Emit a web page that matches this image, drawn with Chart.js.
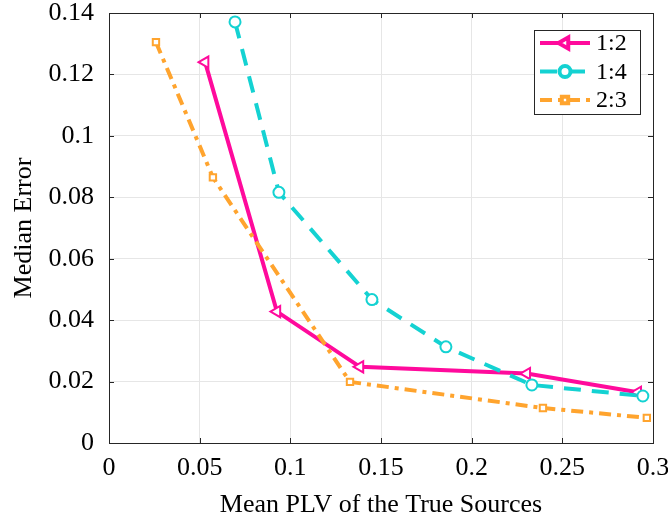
<!DOCTYPE html>
<html>
<head>
<meta charset="utf-8">
<script src="https://cdn.jsdelivr.net/npm/chart.js@4.4.1/dist/chart.umd.min.js"></script>
<style>
  html, body { margin: 0; padding: 0; background: #ffffff; }
</style>
</head>
<body>
<canvas id="grafico" width="668" height="521"></canvas>
<script>
const SERIES = ["1:2", "1:4", "2:3"];

const PLV_12 = [0.053, 0.0926, 0.1384, 0.2304, 0.2916];
const ERR_12 = [0.1240, 0.0428, 0.0248, 0.0226, 0.0165];

const PLV_14 = [0.0695, 0.0937, 0.145, 0.1858, 0.2332, 0.2944];
const ERR_14 = [0.1371, 0.0816, 0.0467, 0.0313, 0.0189, 0.0153];

const PLV_23 = [0.0259, 0.0573, 0.1329, 0.2393, 0.2966];
const ERR_23 = [0.1305, 0.0865, 0.0199, 0.0114, 0.0082];

const X_TICKS = [0, 0.05, 0.1, 0.15, 0.2, 0.25, 0.3];
const Y_TICKS = [0, 0.02, 0.04, 0.06, 0.08, 0.1, 0.12, 0.14];

const FUENTE = "'Liberation Serif', 'Times New Roman', serif";
const TINTA = "#262626";

Chart.defaults.font.family = FUENTE;
Chart.defaults.color = "#000000";

function puntos(xs, ys) {
  return xs.map((x, i) => ({ x: x, y: ys[i] }));
}

function etiqueta(v) {
  return String(Number(v.toFixed(2)));
}

// marco y marcas hacia dentro, como en MATLAB
const pluginMarco = {
  id: "marco",
  beforeDatasetsDraw(chart) {
    const { ctx, chartArea: a, scales } = chart;
    ctx.save();
    ctx.strokeStyle = TINTA;
    ctx.lineWidth = 1;
    ctx.beginPath();
    X_TICKS.forEach((v) => {
      const x = Math.round(scales.x.getPixelForValue(v)) + 0.5;
      ctx.moveTo(x, a.bottom);
      ctx.lineTo(x, a.bottom - 5);
      ctx.moveTo(x, a.top);
      ctx.lineTo(x, a.top + 5);
    });
    Y_TICKS.forEach((v) => {
      const y = Math.round(scales.y.getPixelForValue(v)) + 0.5;
      ctx.moveTo(a.left, y);
      ctx.lineTo(a.left + 5, y);
      ctx.moveTo(a.right, y);
      ctx.lineTo(a.right - 5, y);
    });
    ctx.stroke();
    ctx.strokeRect(Math.round(a.left) + 0.5, Math.round(a.top) + 0.5,
      Math.round(a.right - a.left), Math.round(a.bottom - a.top));
    ctx.restore();
  }
};

const pluginLeyenda = {
  id: "leyenda",
  afterDraw(chart) {
    const { ctx } = chart;
    const caja = { x: 534.5, y: 30.5, w: 106, h: 84 };
    ctx.save();
    ctx.fillStyle = "#ffffff";
    ctx.fillRect(caja.x, caja.y, caja.w, caja.h);
    ctx.strokeStyle = TINTA;
    ctx.lineWidth = 1;
    ctx.strokeRect(caja.x, caja.y, caja.w, caja.h);

    chart.data.datasets.forEach((ds, i) => {
      const y = 43 + i * 28.5;
      ctx.save();
      ctx.strokeStyle = ds.borderColor;
      ctx.lineWidth = ds.borderWidth;
      ctx.setLineDash(ds.borderDash || []);
      ctx.beginPath();
      ctx.moveTo(540, y);
      ctx.lineTo(590, y);
      ctx.stroke();
      ctx.setLineDash([]);
      ctx.strokeStyle = ds.pointBorderColor;
      ctx.fillStyle = ds.pointBackgroundColor;
      Chart.helpers.drawPoint(ctx, {
        pointStyle: ds.pointStyle,
        rotation: ds.pointRotation || 0,
        radius: ds.pointRadius,
        borderWidth: ds.pointBorderWidth
      }, 565, y);
      ctx.restore();

      ctx.fillStyle = "#000000";
      ctx.font = "24px " + FUENTE;
      ctx.textAlign = "left";
      ctx.textBaseline = "middle";
      ctx.fillText(ds.label, 596, y + 1);
    });
    ctx.restore();
  }
};

const datos = {
  datasets: [
    {
      label: SERIES[0],
      data: puntos(PLV_12, ERR_12),
      borderColor: "#ff0a9c",
      borderWidth: 4,
      pointStyle: "triangle",
      pointRotation: -90,
      pointRadius: 6.5,
      pointBorderWidth: 2,
      pointBorderColor: "#ff0a9c",
      pointBackgroundColor: "#ffffff",
      order: 3
    },
    {
      label: SERIES[1],
      data: puntos(PLV_14, ERR_14),
      borderColor: "#14d2d2",
      borderWidth: 4,
      borderDash: [17, 11],
      pointStyle: "circle",
      pointRadius: 5.5,
      pointBorderWidth: 2,
      pointBorderColor: "#14d2d2",
      pointBackgroundColor: "#ffffff",
      order: 2
    },
    {
      label: SERIES[2],
      data: puntos(PLV_23, ERR_23),
      borderColor: "#ffa42e",
      borderWidth: 4,
      borderDash: [12, 6, 4, 6],
      pointStyle: "rect",
      pointRadius: 4.5,
      pointBorderWidth: 2,
      pointBorderColor: "#ffa42e",
      pointBackgroundColor: "#ffffff",
      order: 1
    }
  ]
};

new Chart(document.getElementById("grafico"), {
  type: "scatter",
  data: datos,
  options: {
    responsive: false,
    animation: false,
    showLine: true,
    clip: false,
    layout: {
      padding: { top: 13, right: 15, left: 0, bottom: 0 }
    },
    plugins: {
      legend: { display: false },
      tooltip: { enabled: false }
    },
    scales: {
      x: {
        type: "linear",
        min: 0,
        max: 0.3,
        afterBuildTicks(scale) {
          scale.ticks = X_TICKS.map((v) => ({ value: v }));
        },
        afterFit(scale) {
          scale.height = 78;
          scale.paddingLeft = 0;
          scale.paddingRight = 0;
        },
        border: { display: false },
        grid: { color: "#e6e6e6", lineWidth: 1, drawTicks: false },
        ticks: {
          padding: 10,
          maxRotation: 0,
          color: "#000000",
          font: { size: 26 },
          callback: (v) => etiqueta(v)
        },
        title: {
          display: true,
          text: "Mean PLV of the True Sources",
          color: "#000000",
          font: { size: 26 },
          padding: { top: 0, bottom: 0 }
        }
      },
      y: {
        type: "linear",
        min: 0,
        max: 0.14,
        afterBuildTicks(scale) {
          scale.ticks = Y_TICKS.map((v) => ({ value: v }));
        },
        afterFit(scale) {
          scale.width = 109;
          scale.paddingTop = 0;
          scale.paddingBottom = 0;
        },
        border: { display: false },
        grid: { color: "#e6e6e6", lineWidth: 1, drawTicks: false },
        ticks: {
          padding: 15,
          color: "#000000",
          font: { size: 26 },
          callback: (v) => etiqueta(v)
        },
        title: {
          display: true,
          text: "Median Error",
          color: "#000000",
          font: { size: 26 },
          padding: { top: 9, bottom: 0 }
        }
      }
    }
  },
  plugins: [pluginMarco, pluginLeyenda]
});
</script>
</body>
</html>
